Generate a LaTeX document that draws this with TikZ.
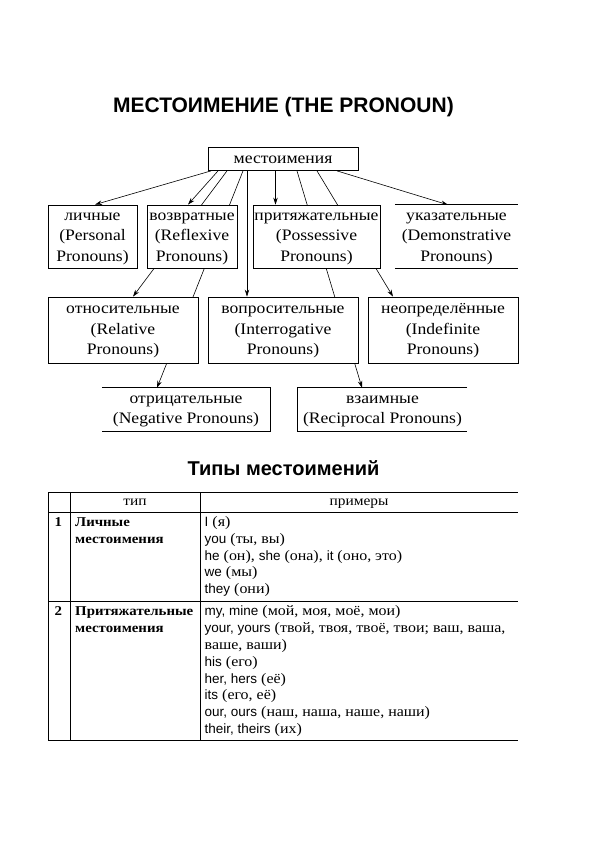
\documentclass[tikz,border=0pt]{standalone}
\usepackage{fontspec}
\setmainfont{Liberation Serif}[FakeStretch=1.1]
\setsansfont{Liberation Sans}
\usetikzlibrary{arrows.meta,backgrounds}
\newcommand\boxfont{\fontsize{16}{20.5}\selectfont}
\newcommand\tabfont{\fontsize{14.5}{16.8}\selectfont}
\newcommand\hdfont{\fontsize{14}{16}\selectfont}
\newcommand\rowfont{\bfseries\fontsize{13.5}{16.8}\selectfont}
\newcommand\en[1]{{\sffamily\fontsize{13.5}{16.8}\selectfont #1}}
\begin{document}
\begin{tikzpicture}[x=1pt,y=-1pt,
  box/.style={draw, line width=0.8pt, fill=white, align=center, inner sep=0pt, font=\boxfont},
  pbox/.style={fill=white, align=center, inner sep=0pt, font=\boxfont},
  edge/.style={line width=0.8pt},
  conn/.style={line width=0.6pt},
  arr/.style={conn, -{Stealth[length=7pt,width=4.5pt]}},
  tab/.style={line width=0.8pt},
  cell/.style={inner sep=0pt, align=left, anchor=north west, font=\tabfont},
  rowcell/.style={inner sep=0pt, align=left, anchor=north west, font=\rowfont},
  head/.style={inner sep=0pt, font=\hdfont},
  ttl/.style={inner sep=0pt, font=\sffamily\bfseries\fontsize{21}{25}\selectfont}
]
\useasboundingbox (0,0) rectangle (595,842);

% titles
\node[ttl] (title) at (283.5,107) {МЕСТОИМЕНИЕ (THE PRONOUN)};
\node[ttl, font=\sffamily\bfseries\fontsize{20}{24}\selectfont] (title2) at (283.5,468) {Типы местоимений};

% diagram boxes
\node[box, minimum width=150pt, minimum height=23pt] (top) at (283,159) {\strut местоимения};
\node[box, minimum width=89pt, minimum height=63pt] (lich) at (92.5,236.5) {\strut личные\\(Personal\\Pronouns)\strut};
\node[box, minimum width=90pt, minimum height=63pt] (vozv) at (192,236.5) {\strut возвратные\\(Reflexive\\Pronouns)\strut};
\node[box, minimum width=127pt, minimum height=63pt] (prit) at (316.5,236.5) {\strut притяжательные\\(Possessive\\Pronouns)\strut};
\node[pbox, minimum width=123pt, minimum height=63pt] (ukaz) at (456.5,236.5) {\strut указательные\\(Demonstrative\\Pronouns)\strut};
\node[box, minimum width=150pt, minimum height=66pt] (otn) at (123,330) {\strut относительные\\(Relative\\Pronouns)\strut};
\node[box, minimum width=150pt, minimum height=66pt] (vopr) at (283,330) {\strut вопросительные\\(Interrogative\\Pronouns)\strut};
\node[box, minimum width=150pt, minimum height=66pt] (neopr) at (443,330) {\strut неопределённые\\(Indefinite\\Pronouns)\strut};
\node[pbox, minimum width=168pt, minimum height=43pt] (otric) at (186,409.5) {\strut отрицательные\\(Negative Pronouns)\strut};
\node[pbox, minimum width=169pt, minimum height=43pt] (vzaim) at (382.5,409.5) {\strut взаимные\\(Reciprocal Pronouns)\strut};

% partial borders
\draw[edge] (ukaz.north west) -- (ukaz.north east);
\draw[edge] (ukaz.south west) -- (ukaz.south east);
\draw[edge] (otric.north west) -- (otric.north east) -- (otric.south east) -- (otric.south west);
\draw[edge] (vzaim.north east) -- (vzaim.north west) -- (vzaim.south west) -- (vzaim.south east);

% connectors
\begin{scope}[on background layer]
\draw[arr] ([xshift=-72pt]top.south) -- ([xshift=2.5pt]lich.north);
\draw[arr] ([xshift=-65pt]top.south) -- ([xshift=-4pt]vozv.north);
\draw[arr] ([xshift=-56pt]top.south) -- ([xshift=10pt]otn.north);
\draw[arr] ([xshift=-40pt]top.south) -- ([xshift=-29pt]otric.north);
\draw[arr] ([xshift=-36pt]top.south) -- ([xshift=-36pt]vopr.north);
\draw[arr] ([xshift=-7.5pt]top.south) -- ([xshift=-41pt]prit.north);
\draw[arr] ([xshift=14pt]top.south) -- ([xshift=-20.5pt]vzaim.north);
\draw[arr] ([xshift=34pt]top.south) -- ([xshift=-50pt]neopr.north);
\draw[arr] ([xshift=54pt]top.south) -- ([xshift=-8.5pt]ukaz.north);
\end{scope}

% table
\draw[tab] (48,492) -- (518,492);
\draw[tab] (48,512) -- (518,512);
\draw[tab] (48,601) -- (518,601);
\draw[tab] (48,740) -- (518,740);
\draw[tab] (48,492) -- (48,740);
\draw[tab] (70,492) -- (70,740);
\draw[tab] (200,492) -- (200,740);

\node[head] (htype) at (135,502) {\strut тип};
\node[head] (hex) at (359,502) {\strut примеры};

\node[rowcell] (n1) at (54.5,514.5) {\strut 1};
\node[rowcell] (t1) at (75,514.5) {\strut Личные\\местоимения};
\node[cell] (e1) at (204.5,514.5) {\strut\en{I} (я)\\
\en{you} (ты, вы)\\
\en{he} (он), \en{she} (она), \en{it} (оно, это)\\
\en{we} (мы)\\
\en{they} (они)};

\node[rowcell] (n2) at (54.5,604) {\strut 2};
\node[rowcell] (t2) at (75,604) {\strut Притяжательные\\местоимения};
\node[cell] (e2) at (204.5,604) {\strut\en{my, mine} (мой, моя, моё, мои)\\
\en{your, yours} (твой, твоя, твоё, твои; ваш, ваша,\\
ваше, ваши)\\
\en{his} (его)\\
\en{her, hers} (её)\\
\en{its} (его, её)\\
\en{our, ours} (наш, наша, наше, наши)\\
\en{their, theirs} (их)};
\end{tikzpicture}
\end{document}
